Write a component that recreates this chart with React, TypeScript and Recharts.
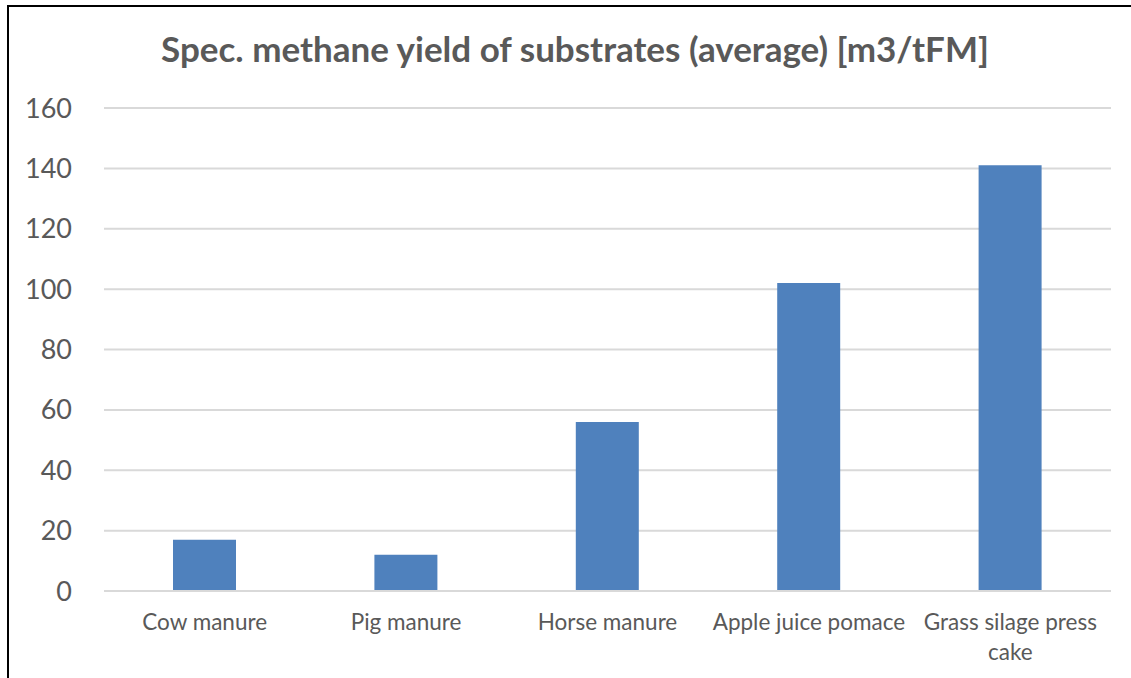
import React from 'react';
import { BarChart, Bar, XAxis, YAxis, CartesianGrid } from 'recharts';

const categories = ['Cow manure', 'Pig manure', 'Horse manure', 'Apple juice pomace', 'Grass silage press cake'];
const methaneYield = [17, 12, 56, 102, 141];
const yTicks = [0, 20, 40, 60, 80, 100, 120, 140, 160];

const data = categories.map((name, i) => ({ name, value: methaneYield[i] }));

const FONT = 'Lato, "Open Sans", sans-serif';
const TEXT_GRAY = '#595959';
const MAX_LINE_CHARS = 18;

// simple greedy word wrap, like Excel does for long category names
const wrapLabel = (label: string): string[] => {
    const lines: string[] = [];
    let current = '';
    label.split(' ').forEach((word) => {
        const next = current ? `${current} ${word}` : word;
        if (next.length > MAX_LINE_CHARS && current) {
            lines.push(current);
            current = word;
        } else {
            current = next;
        }
    });
    if (current) lines.push(current);
    return lines;
};

const CategoryTick = (props: any) => {
    const { x, y, payload } = props;
    const lines = wrapLabel(String(payload.value));
    return (
        <text x={x} y={y + 15} textAnchor="middle" fill={TEXT_GRAY} fontSize={22.5} fontFamily={FONT}>
            {lines.map((line, i) => (
                <tspan key={i} x={x} dy={i === 0 ? '0.71em' : 30}>
                    {line}
                </tspan>
            ))}
        </text>
    );
};

const App: React.FC = () => {
    return (
        <div style={{ position: 'absolute', left: 0, top: 0, width: 1131, height: 678, overflow: 'hidden', background: '#fff' }}>
            <div
                style={{
                    position: 'absolute',
                    left: 7,
                    top: 5,
                    width: 1200,
                    height: 800,
                    border: '2px solid #000',
                    boxSizing: 'border-box',
                }}
            />
            <div
                style={{
                    position: 'absolute',
                    left: 0,
                    top: 27,
                    width: 1150,
                    textAlign: 'center',
                    fontFamily: FONT,
                    fontWeight: 700,
                    fontSize: 35,
                    color: TEXT_GRAY,
                }}
            >
                Spec. methane yield of substrates (average) [m3/tFM]
            </div>
            <div style={{ position: 'absolute', left: 0, top: 0 }}>
                <BarChart
                    width={1131}
                    height={678}
                    data={data}
                    margin={{ top: 108, right: 20, bottom: 0, left: 0 }}
                    barSize={63}
                >
                    <CartesianGrid horizontal vertical={false} stroke="#d9d9d9" strokeWidth={2} />
                    <XAxis
                        dataKey="name"
                        interval={0}
                        height={87}
                        tickLine={false}
                        axisLine={{ stroke: '#d9d9d9', strokeWidth: 2 }}
                        tick={<CategoryTick />}
                    />
                    <YAxis
                        width={104}
                        domain={[0, 160]}
                        ticks={yTicks}
                        interval={0}
                        axisLine={false}
                        tickLine={false}
                        tickSize={0}
                        tickMargin={32}
                        tick={{ fill: TEXT_GRAY, fontSize: 27, fontFamily: FONT }}
                    />
                    <Bar dataKey="value" fill="#4f81bd" isAnimationActive={false} />
                </BarChart>
            </div>
        </div>
    );
};

export default App;
